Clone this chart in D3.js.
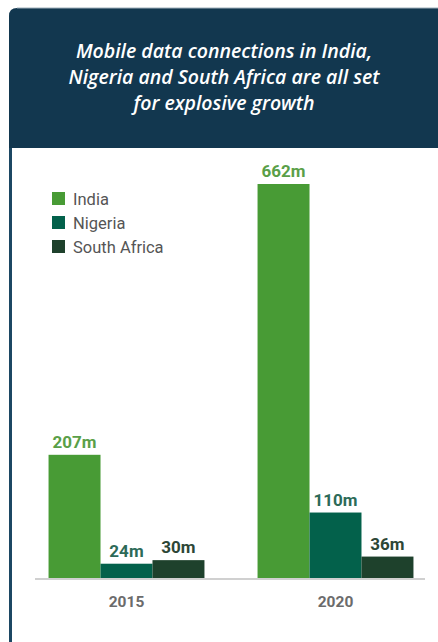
<!DOCTYPE html>
<html>
<head>
<meta charset="utf-8">
<script src="https://cdn.jsdelivr.net/npm/d3@7"></script>
<style>
  html, body { margin: 0; padding: 0; background: #fff; }
  svg { display: block; }
</style>
</head>
<body>
<div id="chart"></div>
<script>
// data
var years = ["2015", "2020"];
var countries = ["India", "Nigeria", "South Africa"];
var india = [207, 662];
var nigeria = [24, 110];
var southAfrica = [30, 36];
var valueLabels = [["207m", "24m", "30m"], ["662m", "110m", "36m"]];

var barColors = ["#489b35", "#03614b", "#1e412c"];
var textColors = ["#5a9f48", "#2c6a58", "#2d4636"];

var W = 438, H = 642;

var svg = d3.select("#chart").append("svg")
            .attr("width", W)
            .attr("height", H);

// header panel, rounded top-left corner
svg.append("path")
   .attr("d", "M9,148 L9,16 Q9,8 17,8 L438,8 L438,148 Z")
   .style("fill", "#12374f");
svg.append("line")
   .attr("x1", 17).attr("y1", 8).attr("x2", 438).attr("y2", 8)
   .style("stroke", "#9fb0bb").style("stroke-width", 1);

// left border running down the page
svg.append("rect")
   .attr("x", 9).attr("y", 148)
   .attr("width", 3).attr("height", H - 148)
   .style("fill", "#1c4763");

var titleLines = ["Mobile data connections in India,", "Nigeria and South Africa are all set", "for explosive growth"];
svg.append("g").selectAll("text")
   .data(titleLines)
   .enter()
   .append("text")
   .attr("x", 224)
   .attr("y", function (d, i) { return 58 + i * 25.8; })
   .attr("text-anchor", "middle")
   .style("font-family", "'Open Sans', sans-serif")
   .style("font-style", "italic")
   .style("font-weight", 600)
   .style("font-size", "19.5px")
   .style("fill", "#ffffff")
   .text(function (d) { return d; });

// scales
var x0 = d3.scaleBand()
           .domain(years)
           .range([22, 440])
           .paddingInner(0.254)
           .paddingOuter(0.127);

var x1 = d3.scaleBand()
           .domain(countries)
           .range([0, x0.bandwidth()]);

var y = d3.scaleLinear()
          .domain([0, 662])
          .range([578, 184]);

var rows = years.map(function (yr, i) {
  return { year: yr, values: [india[i], nigeria[i], southAfrica[i]] };
});

// baseline
svg.append("line")
   .attr("x1", 35).attr("x2", 425)
   .attr("y1", y(0) + 1).attr("y2", y(0) + 1)
   .style("stroke", "#d0d0d0").style("stroke-width", 2);

var groups = svg.selectAll("g.year")
                .data(rows)
                .enter()
                .append("g")
                .attr("class", "year")
                .attr("transform", function (d) { return "translate(" + x0(d.year) + ",0)"; });

groups.selectAll("rect")
      .data(function (d) { return d.values; })
      .enter()
      .append("rect")
      .attr("x", function (d, i) { return x1(countries[i]); })
      .attr("y", function (d) { return y(d); })
      .attr("width", x1.bandwidth())
      .attr("height", function (d) { return y(0) - y(d); })
      .style("fill", function (d, i) { return barColors[i]; });

groups.selectAll("text")
      .data(function (d, gi) { return d.values.map(function (v, i) { return { v: v, i: i, label: valueLabels[gi][i] }; }); })
      .enter()
      .append("text")
      .attr("x", function (d) { return x1(countries[d.i]) + x1.bandwidth() / 2; })
      .attr("y", function (d) { return y(d.v) - 7; })
      .attr("text-anchor", "middle")
      .style("font-family", "Roboto, sans-serif")
      .style("font-weight", 700)
      .style("font-size", "17px")
      .style("fill", function (d) { return textColors[d.i]; })
      .text(function (d) { return d.label; });

// x axis labels
var xAxis = svg.append("g")
               .attr("transform", "translate(0," + (y(0) + 29) + ")")
               .call(d3.axisBottom(x0).tickSize(0).tickPadding(0));
xAxis.select(".domain").remove();
xAxis.selectAll("text")
     .attr("y", 0)
     .attr("dy", 0)
     .style("font-family", "Roboto, sans-serif")
     .style("font-weight", 700)
     .style("font-size", "15.5px")
     .style("fill", "#6b6b6b");

// legend
var legend = svg.selectAll("g.legend")
                .data(countries)
                .enter()
                .append("g")
                .attr("class", "legend")
                .attr("transform", function (d, i) { return "translate(52," + (192 + i * 24) + ")"; });

legend.append("rect")
      .attr("width", 13).attr("height", 13)
      .style("fill", function (d, i) { return barColors[i]; });

legend.append("text")
      .attr("x", 21).attr("y", 12.5)
      .style("font-family", "Roboto, sans-serif")
      .style("font-size", "16.5px")
      .style("fill", "#555555")
      .text(function (d) { return d; });
</script>
</body>
</html>
